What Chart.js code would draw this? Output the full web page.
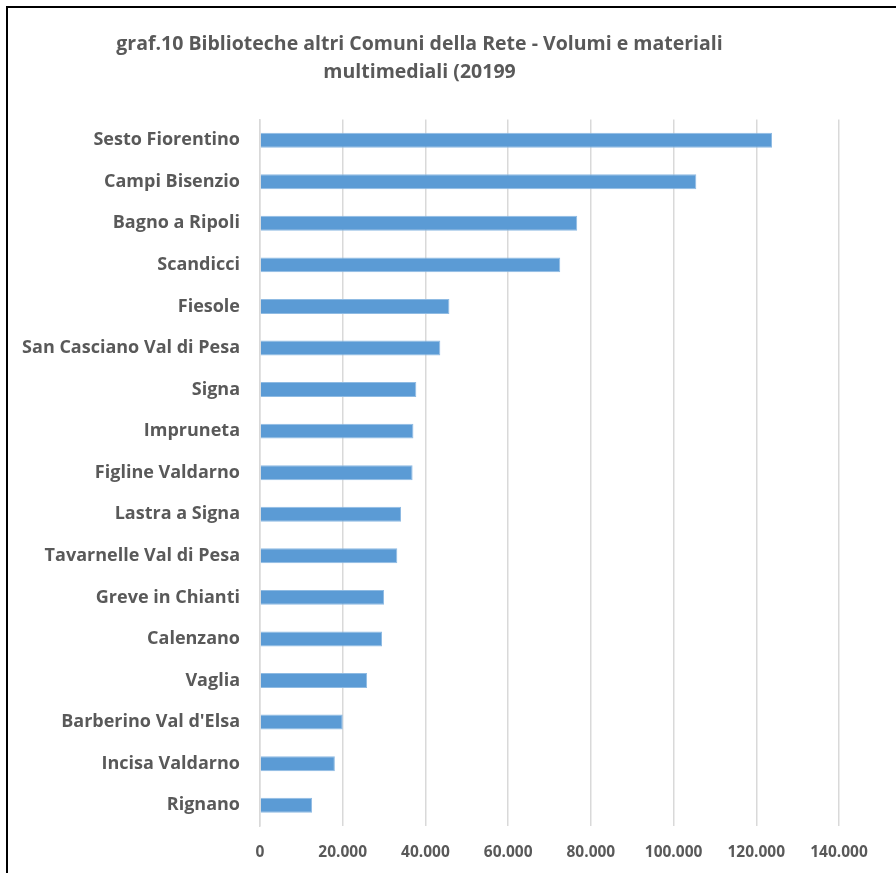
<!DOCTYPE html>
<html>
<head>
<meta charset="utf-8">
<script src="https://cdn.jsdelivr.net/npm/chart.js@4"></script>
<style>
  html, body { margin: 0; padding: 0; background: #fff; }
  #wrap { position: relative; width: 896px; height: 873px; overflow: hidden; }
  #frame { position: absolute; left: 6px; top: 6px; right: -10px; bottom: -10px; border-left: 2px solid #000; border-top: 2px solid #000; }
  canvas { position: absolute; left: 0; top: 0; }
</style>
</head>
<body>
<div id="wrap">
  <div id="frame"></div>
  <canvas id="c" width="896" height="873"></canvas>
</div>
<script>
const titleLines = ["graf.10 Biblioteche altri Comuni della Rete - Volumi e materiali", "multimediali (20199"];
const categories = ["Sesto Fiorentino", "Campi Bisenzio", "Bagno a Ripoli", "Scandicci", "Fiesole", "San Casciano Val di Pesa", "Signa", "Impruneta", "Figline Valdarno", "Lastra a Signa", "Tavarnelle Val di Pesa", "Greve in Chianti", "Calenzano", "Vaglia", "Barberino Val d'Elsa", "Incisa Valdarno", "Rignano"];
const values = [123800, 105500, 76700, 72600, 45800, 43600, 37800, 37100, 36900, 34100, 33200, 30000, 29500, 25900, 20000, 18100, 12600];
const xTickValues = [0, 20000, 40000, 60000, 80000, 100000, 120000, 140000];

const textColor = '#595959';
const fontFam = '"Open Sans", Lato, sans-serif';

new Chart(document.getElementById('c'), {
  type: 'bar',
  data: {
    labels: categories,
    datasets: [{
      data: values,
      backgroundColor: '#5b9bd5',
      borderColor: '#8fbbe3',
      borderWidth: 1,
      borderSkipped: 'start',
      barPercentage: 0.36,
      categoryPercentage: 1.0
    }]
  },
  options: {
    indexAxis: 'y',
    responsive: false,
    animation: false,
    layout: { padding: { left: 0, right: 57, top: 0, bottom: 0 } },
    plugins: {
      legend: { display: false },
      tooltip: { enabled: false },
      title: {
        display: true,
        text: titleLines,
        color: textColor,
        font: { family: fontFam, size: 19.5, weight: 'bold', lineHeight: 1.42 },
        padding: { top: 31, bottom: 33 }
      }
    },
    scales: {
      x: {
        min: 0,
        max: 140000,
        afterBuildTicks: (scale) => { scale.ticks = xTickValues.map(v => ({ value: v })); },
        afterFit: (scale) => { scale.height = 47; },
        grid: { color: '#d9d9d9', lineWidth: 1.5, drawTicks: false },
        border: { display: false },
        ticks: {
          color: textColor,
          padding: 17,
          font: { family: fontFam, size: 15.5, weight: 'bold' },
          callback: (v) => v.toLocaleString('it-IT')
        }
      },
      y: {
        afterFit: (scale) => { scale.width = 260; },
        grid: { display: false, drawTicks: false },
        border: { display: true, color: '#d9d9d9', width: 1.5 },
        ticks: {
          color: textColor,
          padding: 20,
          font: { family: fontFam, size: 18, weight: 'bold' }
        }
      }
    }
  }
});
</script>
</body>
</html>
